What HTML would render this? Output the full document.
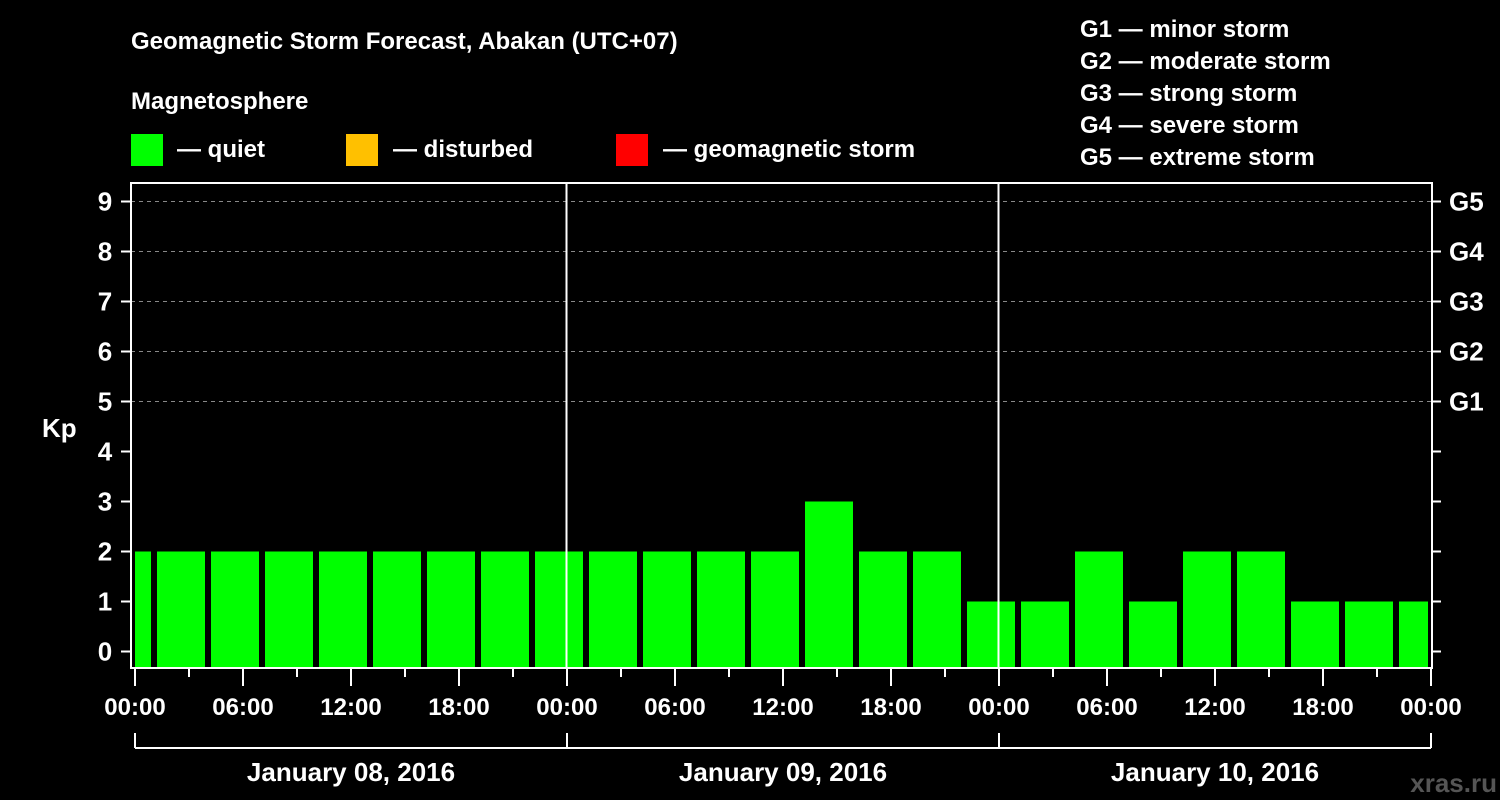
<!DOCTYPE html>
<html><head><meta charset="utf-8"><style>
html,body{margin:0;padding:0;background:#000;}
svg{display:block;font-family:"Liberation Sans",Arial,sans-serif;font-weight:bold;}
</style></head><body>
<svg id="chart" width="1500" height="800">
<text x="131" y="49" fill="#fff" font-size="24">Geomagnetic Storm Forecast, Abakan (UTC+07)</text>
<text x="131" y="109" fill="#fff" font-size="24">Magnetosphere</text>
<rect x="131" y="134" width="32" height="32" fill="#00ff00"/>
<text x="177" y="157" fill="#fff" font-size="24">— quiet</text>
<rect x="346" y="134" width="32" height="32" fill="#ffc000"/>
<text x="393" y="157" fill="#fff" font-size="24">— disturbed</text>
<rect x="616" y="134" width="32" height="32" fill="#ff0000"/>
<text x="663" y="157" fill="#fff" font-size="24">— geomagnetic storm</text>
<g fill="#fff" font-size="24">
<text x="1080" y="37">G1 — minor storm</text>
<text x="1080" y="69">G2 — moderate storm</text>
<text x="1080" y="101">G3 — strong storm</text>
<text x="1080" y="133">G4 — severe storm</text>
<text x="1080" y="165">G5 — extreme storm</text>
</g>
<text x="42" y="437" fill="#fff" font-size="26">Kp</text>
<text x="1497" y="792" fill="#555" font-size="26" text-anchor="end">xras.ru</text>
<g id="plot"></g>
</svg>
<script>
const kpValues=[2,2,2,2,2,2,2,2,2,2,2,2,2,3,2,2,1,1,2,1,2,2,1,1,1];
const yTicks=[0,1,2,3,4,5,6,7,8,9];
const gLabels=["G1","G2","G3","G4","G5"];
const xTickLabels=["00:00","06:00","12:00","18:00","00:00","06:00","12:00","18:00","00:00","06:00","12:00","18:00","00:00"];
const dayLabels=["January 08, 2016","January 09, 2016","January 10, 2016"];
const firstSlotHour=-2, slotHours=3;

const NS="http://www.w3.org/2000/svg";
const g=document.getElementById('plot');
const L=131,R=1432,T=183,B=668,X0=135,PXH=18;
const xs=h=>X0+h*PXH;
const ys=v=>651.5-v*50;
function mk(tag,attrs,parent){const e=document.createElementNS(NS,tag);for(const k in attrs)e.setAttribute(k,attrs[k]);(parent||g).appendChild(e);return e;}

// gridlines
yTicks.forEach(v=>{if(v>=5){const l=mk('line',{x1:L,x2:R,y1:ys(v),y2:ys(v),stroke:'#888','stroke-dasharray':'4,4','stroke-width':1});

}});
// bars
kpValues.forEach((v,i)=>{
 const s=firstSlotHour+i*slotHours;
 let x1=xs(s)+4,x2=xs(s+slotHours)-2;
 x1=Math.max(x1,L+4);x2=Math.min(x2,R-4);
 const c=v>=5?'#ff0000':(v>=4?'#ffc000':'#00ff00');
 const r=mk('rect',{x:x1,y:ys(v),width:x2-x1,height:B-ys(v),fill:c});
 
 
});
// day dividers
[24,48].forEach(h=>{const l=mk('line',{x1:xs(h)-0.5,x2:xs(h)-0.5,y1:T,y2:B,stroke:'#fff','stroke-width':2});

});
// frame
const f=mk('rect',{x:L,y:T,width:R-L,height:B-T,fill:'none',stroke:'#fff','stroke-width':2});


// y ticks
yTicks.forEach(v=>{
 mk('line',{x1:L-10,x2:L,y1:ys(v),y2:ys(v),stroke:'#fff','stroke-width':2});
 mk('line',{x1:R,x2:R+9,y1:ys(v),y2:ys(v),stroke:'#fff','stroke-width':2});
 const t=mk('text',{x:105,y:ys(v)+9,fill:'#fff','font-size':26,'text-anchor':'middle'});t.textContent=v;
 
 
});
gLabels.forEach((lb,i)=>{const t=mk('text',{x:1449,y:ys(5+i)+9,fill:'#fff','font-size':26});t.textContent=lb;
 
 });
// x ticks
for(let h=0;h<=72;h+=3){const major=h%6===0;mk('line',{x1:xs(h),x2:xs(h),y1:B+1,y2:B+(major?18:9),stroke:'#fff','stroke-width':2});}
xTickLabels.forEach((lb,i)=>{const t=mk('text',{x:xs(i*6),y:715,fill:'#fff','font-size':24,'text-anchor':'middle'});t.textContent=lb;
 
 });
// day bracket
mk('line',{x1:xs(0),x2:xs(72),y1:748,y2:748,stroke:'#fff','stroke-width':2});
[0,24,48,72].forEach(h=>mk('line',{x1:xs(h),x2:xs(h),y1:733,y2:748,stroke:'#fff','stroke-width':2}));
dayLabels.forEach((lb,i)=>{const t=mk('text',{x:xs(i*24+12),y:781,fill:'#fff','font-size':26,'text-anchor':'middle'});t.textContent=lb;
 
 });
</script>
</body></html>
